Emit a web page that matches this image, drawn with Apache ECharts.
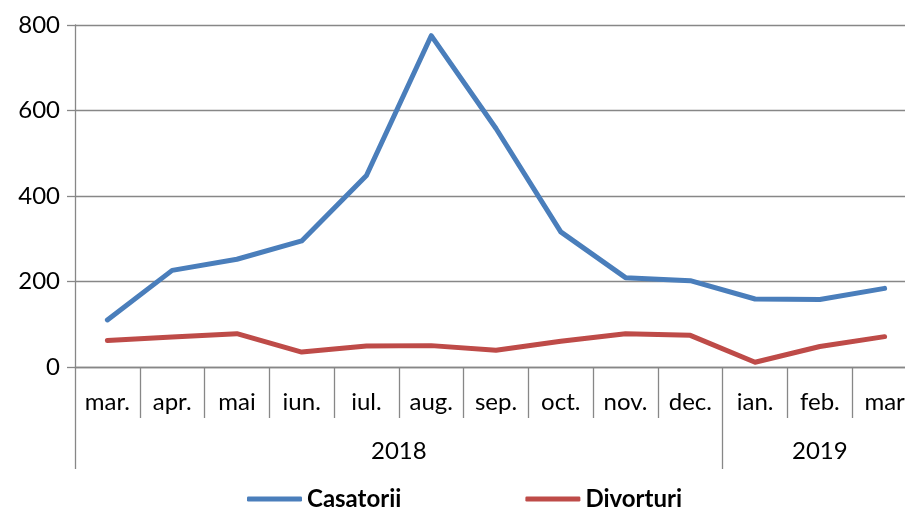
<!DOCTYPE html>
<html>
<head>
<meta charset="utf-8">
<script src="https://cdn.jsdelivr.net/npm/echarts@6/dist/echarts.min.js"></script>
<style>
  html, body { margin: 0; padding: 0; background: #fff; }
  #chart { width: 905px; height: 511px; }
</style>
</head>
<body>
<div id="chart"></div>
<script>
const months = ['mar.', 'apr.', 'mai', 'iun.', 'iul.', 'aug.', 'sep.', 'oct.', 'nov.', 'dec.', 'ian.', 'feb.', 'mar']
const years = ['2018', '2019']
const yearSpans = [10, 3]
const casatorii = [110, 226, 252, 295, 448, 775, 558, 316, 209, 202, 159, 158, 184]
const divorturi = [62, 70, 78, 35, 49, 50, 39, 60, 78, 74, 11, 48, 71]

const gray = '#878787'
const font = 'Lato, "Open Sans", sans-serif'

// year group boundaries and centres, counted in month slots
const yearEdges = [0]
const yearCentres = []
yearSpans.forEach((span, i) => {
  yearCentres.push(yearEdges[i] + span / 2)
  yearEdges.push(yearEdges[i] + span)
})

const chart = echarts.init(document.getElementById('chart'))

chart.setOption({
  animation: false,
  grid: { left: 75, top: 25, width: 842, height: 342, outerBoundsMode: 'none', containLabel: false },
  legend: {
    left: 247,
    top: 487,
    padding: 0,
    icon: 'roundRect',
    itemWidth: 55,
    itemHeight: 5,
    itemGap: 124,
    textStyle: { fontFamily: font, fontSize: 24, fontWeight: 'bold', color: '#000' },
  },
  xAxis: [
    {
      type: 'category',
      data: months,
      boundaryGap: true,
      axisLine: { show: true, lineStyle: { color: gray, width: 1.3 } },
      axisTick: { show: true, interval: 0, alignWithLabel: false, length: 51, lineStyle: { color: gray, width: 1.3 } },
      axisLabel: { interval: 0, margin: 23, fontFamily: font, fontSize: 24, color: '#000' },
    },
    {
      type: 'value',
      position: 'bottom',
      offset: 51,
      min: 0,
      max: months.length,
      splitLine: { show: false },
      axisLine: { show: false },
      axisTick: {
        show: true,
        customValues: yearEdges.slice(0, -1),
        length: 51,
        lineStyle: { color: gray, width: 1.3 },
      },
      axisLabel: {
        customValues: yearCentres,
        margin: 21,
        fontFamily: font,
        fontSize: 24,
        color: '#000',
        formatter: (v) => years[yearCentres.indexOf(v)],
      },
    },
  ],
  yAxis: {
    type: 'value',
    min: 0,
    max: 800,
    interval: 200,
    axisLine: { show: true, lineStyle: { color: gray, width: 1.3 } },
    axisTick: { show: true, length: 8, lineStyle: { color: gray, width: 1.3 } },
    axisLabel: { margin: 15, fontFamily: font, fontSize: 24, color: '#000' },
    splitLine: { lineStyle: { color: gray, width: 1.3 } },
  },
  series: [
    {
      name: 'Casatorii',
      type: 'line',
      data: casatorii,
      symbol: 'none',
      lineStyle: { color: '#4A7EBB', width: 5, cap: 'round', join: 'round' },
      itemStyle: { color: '#4A7EBB' },
    },
    {
      name: 'Divorturi',
      type: 'line',
      data: divorturi,
      symbol: 'none',
      lineStyle: { color: '#BE4B48', width: 5, cap: 'round', join: 'round' },
      itemStyle: { color: '#BE4B48' },
    },
  ],
})
</script>
</body>
</html>
